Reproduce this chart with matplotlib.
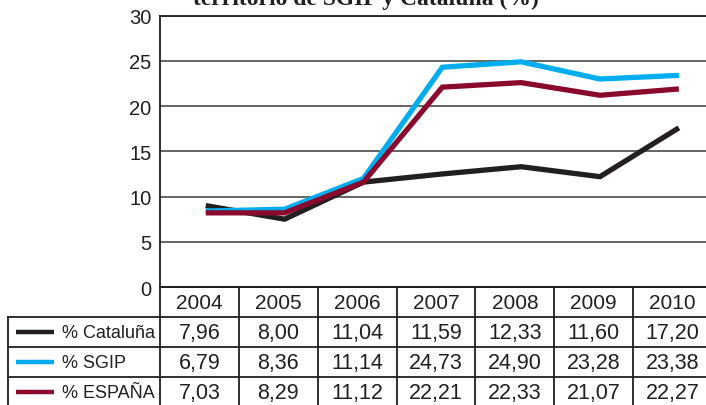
import matplotlib
matplotlib.use("Agg")
import matplotlib.pyplot as plt

plt.rcParams['font.family'] = ['Liberation Sans', 'DejaVu Sans']

title = "territorio de SGIP y Cataluña (%)"
years = ["2004", "2005", "2006", "2007", "2008", "2009", "2010"]
series_names = ["% Cataluña", "% SGIP", "% ESPAÑA"]
colors = ["#231f20", "#00aeef", "#8a0a2e"]

# values of the plotted lines
line_cat = [9.0, 7.5, 11.6, 12.5, 13.3, 12.2, 17.6]
line_sgip = [8.4, 8.6, 12.0, 24.3, 24.9, 23.0, 23.4]
line_esp = [8.2, 8.2, 11.6, 22.1, 22.6, 21.2, 21.9]

# values printed in the data table
tab_cat = [7.96, 8.00, 11.04, 11.59, 12.33, 11.60, 17.20]
tab_sgip = [6.79, 8.36, 11.14, 24.73, 24.90, 23.28, 23.38]
tab_esp = [7.03, 8.29, 11.12, 22.21, 22.33, 21.07, 22.27]

lines = [line_cat, line_sgip, line_esp]
tables = [tab_cat, tab_sgip, tab_esp]

W, H = 706, 406
fig = plt.figure(figsize=(W / 100, H / 100), dpi=100)

# main chart
top = 16.7
ax = fig.add_axes([160 / W, (H - 288) / H, (712 - 160) / W, (288 - top) / H])
ax.set_xlim(-0.58, 6.42)
ax.set_ylim(0, 30)
ax.set_yticks(range(0, 31, 5))
ax.set_xticks([])
ax.tick_params(axis='y', length=0, pad=6, labelsize=14.5, labelcolor="#231f20")
ax.yaxis.grid(True, color="#3a3a3a", lw=1.1)
ax.set_axisbelow(True)
ax.spines["right"].set_visible(False)
for s in ["left", "top", "bottom"]:
    ax.spines[s].set_color("#231f20")
    ax.spines[s].set_linewidth(1.3)
xs = list(range(len(years)))
for vals, c in zip(lines, colors):
    ax.plot(xs, vals, color=c, lw=3.8, solid_capstyle='butt', solid_joinstyle='miter', zorder=3)

# title (partly cut at top)
fig.text(0.518, (H - 5) / H, title, ha='center', va='baseline',
         fontsize=17, fontweight='bold', family=['Liberation Serif', 'DejaVu Serif'],
         color="#231f20")

# data table
tax = fig.add_axes([160 / W, 0, (712 - 160) / W, (H - 288) / H])
tax.set_xlim(-0.5, 6.5)
tax.set_ylim((H - 288) / 30, 0)
tax.axis('off')
colw = (712 - 160) / 7
xl = -0.5 - (160 - 8) / colw
kw = dict(color="#231f20", lw=1.3, clip_on=False)
for r in range(0, 5):
    tax.plot([-0.5, 6.5], [r, r], **kw)
for r in range(1, 5):
    tax.plot([xl, -0.5], [r, r], **kw)
for c in range(8):
    tax.plot([c - 0.5, c - 0.5], [0, 4], **kw)
tax.plot([xl, xl], [1, 4], **kw)

for i, y in enumerate(years):
    tax.text(i, 0.52, y, ha='center', va='center', fontsize=15, color="#231f20")
for r, (name, vals, c) in enumerate(zip(series_names, tables, colors)):
    yy = r + 1.52
    for i, v in enumerate(vals):
        tax.text(i, yy, f"{v:.2f}".replace('.', ','), ha='center', va='center',
                 fontsize=15.5, color="#231f20", clip_on=False)
    tax.plot([-0.5 - 144 / colw, -0.5 - 106 / colw], [yy - 0.02, yy - 0.02],
             color=c, lw=3.2, clip_on=False, solid_capstyle='butt')
    tax.text(-0.5 - 98 / colw, yy, name, ha='left', va='center', fontsize=13,
             color="#231f20", clip_on=False)

fig.savefig("out.png", dpi=100)
